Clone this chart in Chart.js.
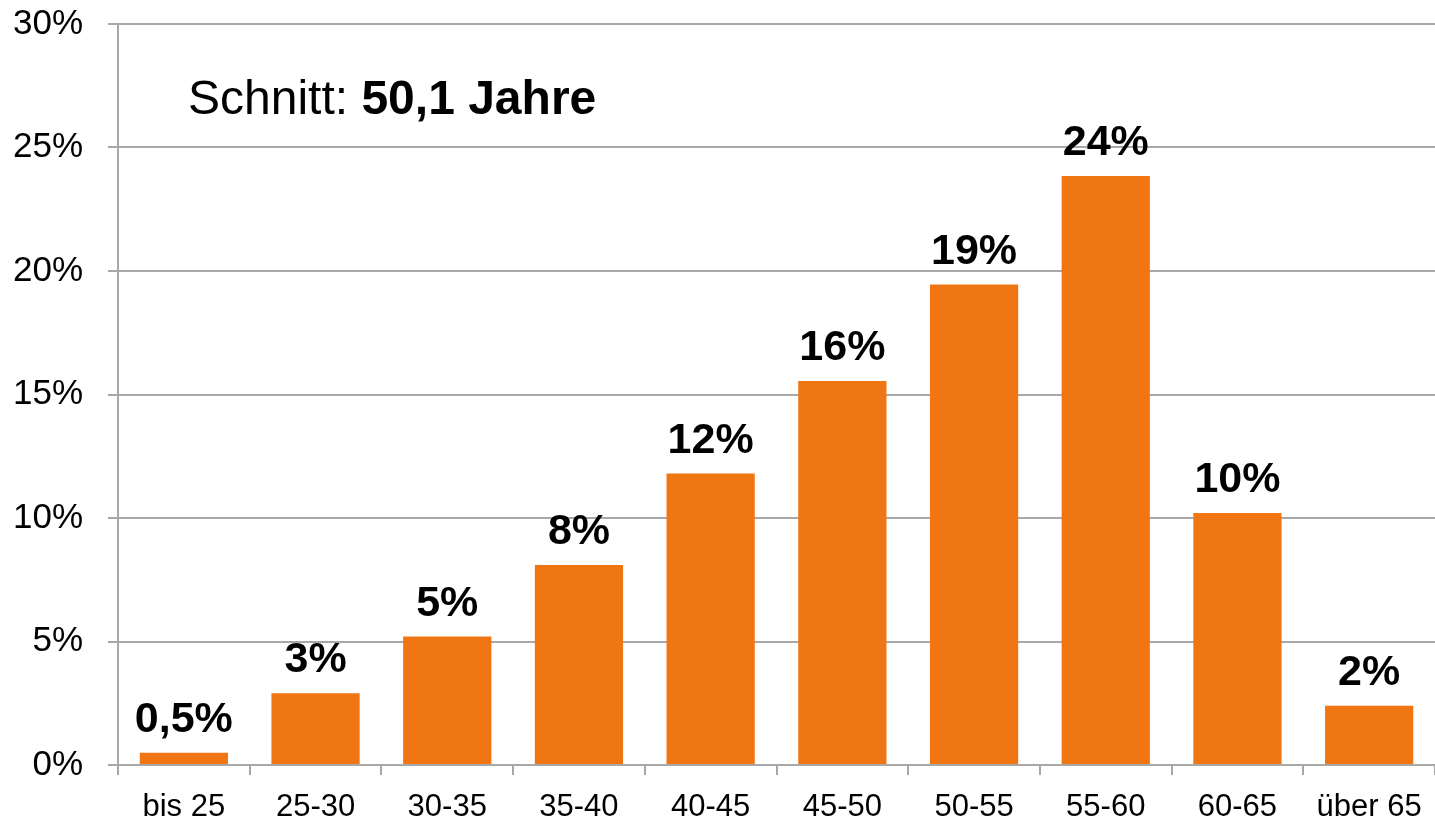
<!DOCTYPE html>
<html>
<head>
<meta charset="utf-8">
<script src="https://cdn.jsdelivr.net/npm/chart.js@4"></script>
<style>
    html, body { margin: 0; padding: 0; background: #fff; }
    #wrap { width: 1435px; height: 822px; }
</style>
</head>
<body>
<div id="wrap"><canvas id="ageChart"></canvas></div>
<script>
// === Data ===
const categories = ['bis 25', '25-30', '30-35', '35-40', '40-45', '45-50', '50-55', '55-60', '60-65', 'über 65'];
const shares = [0.5, 2.9, 5.2, 8.1, 11.8, 15.55, 19.45, 23.85, 10.2, 2.4];
const shareLabels = ['0,5%', '3%', '5%', '8%', '12%', '16%', '19%', '24%', '10%', '2%'];
const yTicks = [0, 5, 10, 15, 20, 25, 30];
const averageText = 'Schnitt: ';
const averageValue = '50,1 Jahre';

const FONT = "'Liberation Sans', Arial, sans-serif";
const GRID = '#a8a8a8';

// === Value labels above bars + average note ===
const labelPlugin = {
    id: 'labels',
    afterDatasetsDraw(chart) {
        const ctx = chart.ctx;
        const meta = chart.getDatasetMeta(0);
        ctx.save();
        ctx.fillStyle = '#000';
        ctx.textAlign = 'center';
        ctx.textBaseline = 'alphabetic';
        ctx.font = 'bold 43px ' + FONT;
        meta.data.forEach((bar, i) => {
            ctx.fillText(shareLabels[i], bar.x, bar.y - 21);
        });

        // "Schnitt: 50,1 Jahre"
        ctx.textAlign = 'left';
        ctx.font = '48px ' + FONT;
        const x0 = 188, y0 = 114;
        ctx.fillText(averageText, x0, y0);
        const w = ctx.measureText(averageText).width;
        ctx.font = 'bold 48px ' + FONT;
        ctx.fillText(averageValue, x0 + w, y0);
        ctx.restore();
    }
};

const ctx = document.getElementById('ageChart').getContext('2d');
new Chart(ctx, {
    type: 'bar',
    data: {
        labels: categories,
        datasets: [{
            data: shares,
            backgroundColor: '#F07614',
            borderWidth: 0,
            categoryPercentage: 1.0,
            barPercentage: 0.67
        }]
    },
    options: {
        responsive: true,
        maintainAspectRatio: false,
        animation: false,
        layout: { padding: { top: 24, right: 0, left: 0, bottom: 0 } },
        plugins: {
            legend: { display: false },
            tooltip: { enabled: false }
        },
        scales: {
            x: {
                grid: {
                    offset: true,
                    drawOnChartArea: false,
                    drawTicks: true,
                    tickLength: 10,
                    color: GRID,
                    lineWidth: 2
                },
                border: { display: true, color: GRID, width: 2 },
                ticks: {
                    color: '#000',
                    font: { family: FONT, size: 31 },
                    padding: 14,
                    maxRotation: 0,
                    autoSkip: false
                },
                afterFit(scale) {
                    scale.height = 57;
                    scale.paddingLeft = 0;
                    scale.paddingRight = 0;
                }
            },
            y: {
                min: 0,
                max: 30,
                afterBuildTicks(scale) {
                    scale.ticks = yTicks.map(v => ({ value: v }));
                },
                grid: {
                    color: GRID,
                    lineWidth: 2,
                    tickLength: 10
                },
                border: { display: true, color: GRID, width: 2 },
                ticks: {
                    color: '#000',
                    font: { family: FONT, size: 35 },
                    padding: 25,
                    callback: v => v + '%'
                },
                afterFit(scale) {
                    scale.width = 118;
                    scale.paddingTop = 0;
                    scale.paddingBottom = 0;
                }
            }
        }
    },
    plugins: [labelPlugin]
});
</script>
</body>
</html>
